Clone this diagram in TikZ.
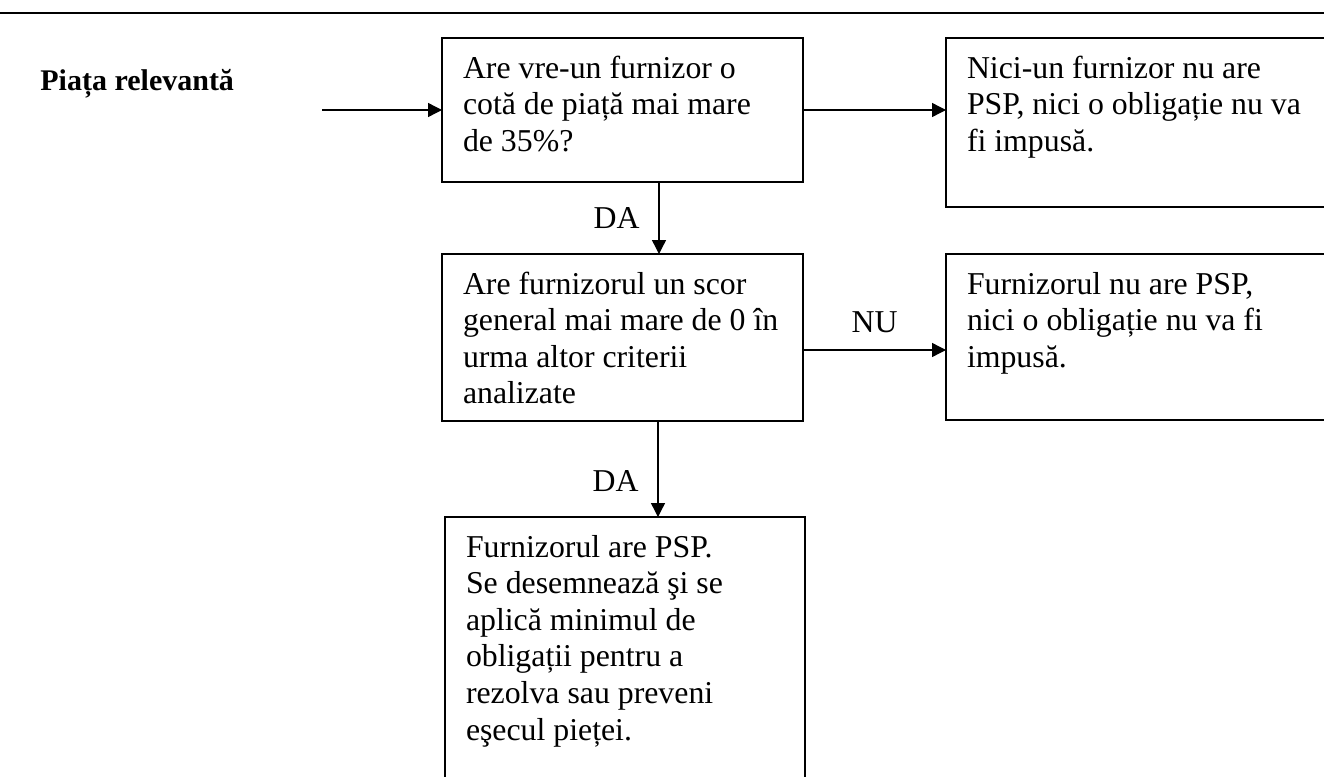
\documentclass[tikz,border=0pt]{standalone}
\usepackage{fontspec}
\setmainfont{Liberation Serif}
\usetikzlibrary{arrows.meta,positioning}
\newcommand{\boxtext}[3]{\parbox[t][#2][t]{#1}{\raggedright\vspace*{7.2pt}\strut #3}}

\begin{document}
\begin{tikzpicture}[x=0.5pt,y=-0.5pt,>={Triangle[length=7pt,width=7pt]},
    box node/.style={draw,line width=0.85pt,anchor=north west,inner xsep=10.5pt,inner ysep=0pt,outer sep=0pt,font=\fontsize{15.9}{18.3}\selectfont},
    tag node/.style={inner sep=3.33pt,font=\fontsize{15.9}{18.3}\selectfont},
    flow/.style={->,line width=0.7pt}]
  \useasboundingbox (0,0) rectangle (1324,777);
  \draw[line width=1pt] (0,13) -- (1324,13);

  \node[tag node,anchor=base west,inner sep=0pt,font=\fontsize{15}{17}\selectfont\bfseries] (title) at (40,90) {Piața relevantă};

  \node[box node] (q1) at (442,38) {\boxtext{159.5pt}{72pt}{Are vre-un furnizor o\\cotă de piață mai mare\\de 35\%?}};
  \node[box node] (r1) at (946,38) {\boxtext{179pt}{84.5pt}{Nici-un furnizor nu are\\PSP, nici o obligație nu va\\fi impusă.}};
  \node[box node] (q2) at (442,254) {\boxtext{159.5pt}{83.5pt}{Are furnizorul un scor\\general mai mare de 0 în\\urma altor criterii\\analizate}};
  \node[box node] (r2) at (946,254) {\boxtext{179pt}{83pt}{Furnizorul nu are PSP,\\nici o obligație nu va fi\\impusă.}};
  \node[box node] (r3) at (445,517) {\boxtext{159pt}{145pt}{Furnizorul are PSP.\\Se desemnează şi se\\aplică minimul de\\obligații pentru a\\rezolva sau preveni\\eşecul pieței.}};

  \coordinate (src) at (322,110);
  \coordinate (dn1) at (659,200);
  \coordinate (dn2) at (658,470);
  \coordinate (nu) at (874,350);
  \path[flow] (src) edge (src -| q1.west);
  \path[flow] (q1.east |- src) edge (r1.west |- src);
  \path[flow] (q1.south -| dn1) edge node[tag node,left=6pt] (da1) {DA} (q2.north -| dn1);
  \path[flow] (q2.south -| dn2) edge node[tag node,pos=0.63,left=6pt] (da2) {DA} (r3.north -| dn2);
  \path[flow] (q2.east |- nu) edge node[tag node,above=5pt] (no) {NU} (r2.west |- nu);
\end{tikzpicture}
\end{document}
